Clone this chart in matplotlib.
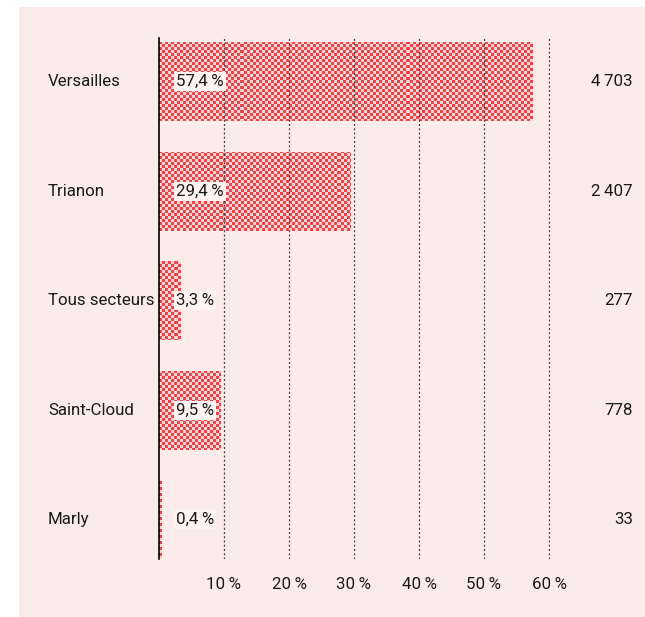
import numpy as np
import matplotlib
matplotlib.use("Agg")
import matplotlib.pyplot as plt
from matplotlib.colors import ListedColormap
from matplotlib.patches import Rectangle
from matplotlib.transforms import blended_transform_factory

plt.rcParams["font.family"] = ["Roboto", "DejaVu Sans"]

# shares of visitors per estate, with absolute counts
categories = ["Versailles", "Trianon", "Tous secteurs", "Saint-Cloud", "Marly"]
shares = [57.4, 29.4, 3.3, 9.5, 0.4]
counts = ["4\u2009703", "2\u2009407", "277", "778", "33"]
tick_values = [10, 20, 30, 40, 50, 60]

PANEL = "#FCECE9"
RED = "#E8464E"
LIGHT = "#F9D4D3"
INK = "#1a1a1a"
FS = 12.2

W, H = 645, 617
fig = plt.figure(figsize=(W / 100, H / 100), dpi=100, facecolor="white")
fig.patches.append(Rectangle((19 / W, 0), 1, 1 - 7 / H, transform=fig.transFigure,
                             facecolor=PANEL, edgecolor="none", zorder=-10))

ax_w, ax_h = 409.5, 521
ax = fig.add_axes([159 / W, 1 - 559 / H, ax_w / W, ax_h / H])
ax.set_facecolor("none")

xlim = (0, 63)
ylim = (4.36, -0.4)
y = np.arange(len(categories))

bars = ax.barh(y, shares, height=0.72, color="none", edgecolor="none")

# checkered fill: one texture clipped to each bar
cell = 3
nx, ny = int(ax_w / cell), int(ax_h / cell)
checker = np.add.outer(np.arange(ny), np.arange(nx)) % 2
cmap = ListedColormap([LIGHT, RED])
for bar in bars:
    im = ax.imshow(checker, cmap=cmap, extent=(xlim[0], xlim[1], ylim[0], ylim[1]),
                   interpolation="nearest", aspect="auto", zorder=1)
    im.set_clip_path(bar)

ax.set_xlim(*xlim)
ax.set_ylim(*ylim)

for v in tick_values:
    ax.axvline(v, color="#444444", lw=0.9, ls=(0, (1.6, 1.8)), zorder=3)

for s in ["top", "right", "bottom"]:
    ax.spines[s].set_visible(False)
ax.spines["left"].set_color("black")
ax.spines["left"].set_linewidth(1.2)
ax.spines["left"].set_zorder(4)

ax.set_yticks([])
ax.set_xticks(tick_values)
ax.set_xticklabels([f"{v}\u2009%" for v in tick_values])
ax.tick_params(axis="x", length=0, pad=13, labelsize=FS, labelcolor=INK)

left = blended_transform_factory(fig.transFigure, ax.transData)
inside = blended_transform_factory(ax.transAxes, ax.transData)
for yi, name, share, count in zip(y, categories, shares, counts):
    ax.text(48 / W, yi, name, transform=left, ha="left", va="center",
            fontsize=FS, color=INK)
    ax.text(633 / W, yi, count, transform=left, ha="right", va="center",
            fontsize=FS, color=INK)
    label = f"{share:.1f}".replace(".", ",") + "\u2009%"
    ax.text(17 / ax_w, yi, label, transform=inside, ha="left", va="center",
            fontsize=FS, color=INK, zorder=5,
            bbox=dict(facecolor="#FDF3F1", edgecolor="none", pad=1.5))

fig.savefig("out.png", dpi=100)
